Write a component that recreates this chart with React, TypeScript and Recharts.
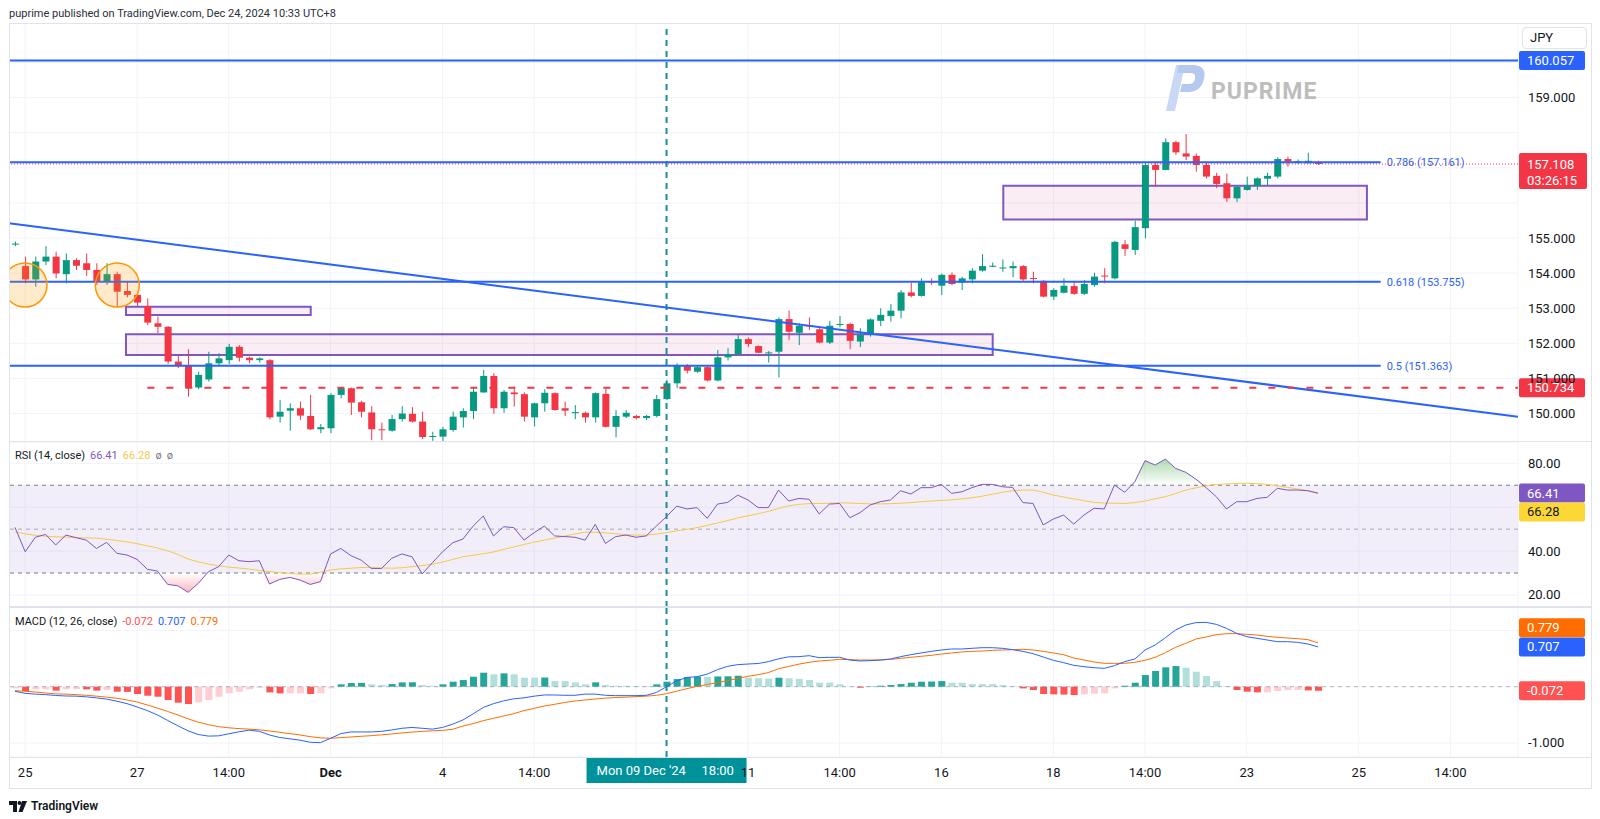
import React from "react";
import {
  ComposedChart,
  Bar,
  Line,
  Area,
  XAxis,
  YAxis,
  CartesianGrid,
  ReferenceLine,
  ReferenceArea,
  ReferenceDot,
  Cell,
} from "recharts";

const FONT = "Roboto, 'Noto Sans', sans-serif";
const UP = "#089981";
const DOWN = "#f23645";
const BLUE = "#2962ff";
const GRID = "#f0f3fa";
const TEXT = "#131722";
const CROSS = "#1a8e99";

// 4H candles, Mon 25 Nov (index 1) .. Tue 24 Dec 10:00 (index 128)
const opens = [
  154.82, 154.2, 153.82, 154.33, 154.47, 153.97, 154.37, 154.28, 154.09, 153.76,
  153.97, 153.49, 153.38, 153.06, 152.57, 152.47, 151.48, 151.35, 150.74, 150.97,
  151.43, 151.52, 151.9, 151.59, 151.52, 151.52, 149.91, 150.08, 150.15, 149.93,
  149.55, 149.58, 150.53, 150.72, 150.32, 150.03, 149.55, 149.51, 149.84, 149.99,
  149.77, 149.33, 149.34, 149.53, 149.89, 150.07, 150.6, 151.07, 150.15, 150.6,
  150.55, 149.89, 150.29, 150.58, 150.15, 150.01, 150.02, 149.89, 150.56, 149.62,
  149.91, 149.93, 149.87, 149.93, 150.41, 150.86, 151.35, 151.19, 151.32, 150.94,
  151.6, 151.69, 152.12, 151.92, 151.72, 151.76, 152.69, 152.3, 152.51, 152.4,
  152.02, 152.53, 152.55, 152.05, 152.24, 152.64, 152.78, 152.93, 153.45, 153.35,
  153.76, 153.64, 153.95, 153.73, 153.82, 154.07, 154.18, 154.14, 154.14, 154.2,
  153.86, 153.78, 153.33, 153.44, 153.63, 153.41, 153.66, 153.93, 153.85, 154.82,
  154.66, 155.28, 157.08, 156.94, 157.73, 157.41, 157.34, 157.08, 156.77, 156.56,
  156.13, 156.37, 156.48, 156.69, 156.75, 157.25, 157.17, 157.13, 157.16,
];
const highs = [
  154.9, 154.47, 154.47, 154.77, 154.61, 154.56, 154.42, 154.56, 154.28, 154.28,
  154.04, 153.77, 153.4, 153.28, 152.76, 152.49, 151.64, 151.83, 151.19, 151.76,
  151.72, 151.98, 151.95, 151.62, 151.6, 151.55, 150.38, 150.29, 150.34, 150.53,
  149.7, 150.58, 150.75, 150.74, 150.36, 150.21, 149.74, 149.96, 150.21, 150.18,
  150.05, 149.48, 149.62, 150.05, 150.15, 150.76, 151.24, 151.15, 150.67, 150.76,
  150.6, 150.31, 150.69, 150.6, 150.34, 150.24, 150.05, 150.6, 150.7, 150.1,
  150.1, 149.96, 149.96, 150.53, 150.96, 151.43, 151.41, 151.35, 151.35, 151.81,
  151.86, 152.24, 152.17, 151.94, 151.78, 152.74, 152.93, 152.57, 152.74, 152.43,
  152.64, 152.78, 152.59, 152.43, 152.71, 153.0, 153.12, 153.52, 153.73, 153.85,
  153.85, 153.99, 154.02, 153.9, 154.14, 154.54, 154.3, 154.39, 154.33, 154.23,
  154.04, 153.8, 153.57, 153.85, 153.78, 153.8, 154.01, 154.14, 154.92, 154.94,
  155.49, 157.15, 157.13, 157.84, 157.77, 157.96, 157.41, 157.17, 156.86, 156.84,
  156.48, 156.75, 156.73, 156.86, 157.3, 157.32, 157.24, 157.43, 157.2,
];
const lows = [
  154.77, 153.71, 153.61, 154.23, 153.85, 153.71, 154.09, 153.92, 153.66, 153.66,
  153.03, 153.31, 153.06, 152.52, 152.29, 151.41, 151.29, 150.48, 150.69, 150.91,
  151.35, 151.41, 151.48, 151.43, 151.45, 149.84, 149.74, 149.51, 149.82, 149.53,
  149.44, 149.44, 150.43, 149.96, 149.89, 149.24, 149.24, 149.48, 149.77, 149.74,
  149.27, 149.22, 149.2, 149.48, 149.6, 149.84, 150.59, 149.99, 150.02, 150.2,
  149.77, 149.63, 150.05, 150.08, 149.93, 149.84, 149.74, 149.74, 149.6, 149.32,
  149.87, 149.83, 149.81, 149.89, 150.38, 150.72, 151.14, 151.16, 150.91, 150.91,
  151.51, 151.67, 151.89, 151.72, 151.45, 151.03, 152.09, 151.95, 152.38, 152.0,
  151.98, 152.46, 151.83, 151.89, 152.19, 152.49, 152.62, 152.71, 153.31, 153.33,
  153.66, 153.38, 153.66, 153.52, 153.71, 154.04, 154.17, 154.04, 153.88, 153.78,
  153.71, 153.31, 153.23, 153.42, 153.38, 153.38, 153.61, 153.71, 153.82, 154.49,
  154.52, 154.99, 156.46, 156.93, 157.37, 157.22, 156.89, 156.7, 156.42, 156.03,
  156.03, 156.35, 156.37, 156.51, 156.7, 157.03, 157.11, 157.13, 157.08,
];
const closes = [
  154.84, 153.82, 154.33, 154.47, 153.99, 154.37, 154.21, 154.09, 153.76, 153.97,
  153.47, 153.38, 153.16, 152.59, 152.47, 151.48, 151.35, 150.74, 151.1, 151.43,
  151.57, 151.9, 151.59, 151.52, 151.57, 149.89, 150.05, 150.15, 149.94, 149.55,
  149.61, 150.53, 150.72, 150.31, 150.05, 149.55, 149.53, 149.84, 150.0, 149.77,
  149.33, 149.36, 149.55, 149.91, 150.07, 150.62, 151.07, 150.15, 150.62, 150.55,
  149.91, 150.29, 150.59, 150.1, 150.08, 150.04, 149.89, 150.58, 149.62, 149.93,
  150.02, 149.87, 149.93, 150.41, 150.86, 151.35, 151.22, 151.32, 150.94, 151.6,
  151.69, 152.12, 151.98, 151.73, 151.74, 152.69, 152.33, 152.5, 152.48, 152.02,
  152.5, 152.55, 152.07, 152.24, 152.68, 152.81, 152.93, 153.45, 153.35, 153.74,
  153.74, 153.95, 153.69, 153.85, 154.07, 154.2, 154.21, 154.16, 154.2, 153.82,
  153.84, 153.33, 153.52, 153.64, 153.41, 153.69, 153.9, 153.91, 154.89, 154.69,
  155.31, 157.08, 156.94, 157.73, 157.44, 157.32, 157.08, 156.75, 156.54, 156.13,
  156.46, 156.49, 156.7, 156.77, 157.25, 157.18, 157.19, 157.2, 157.108,
];

const rsi = [
  50.8, 39.7, 46.3, 47.6, 42.8, 47.3, 46.1, 45.0, 41.2, 44.0, 39.0, 38.2, 36.2,
  31.7, 30.9, 24.8, 24.2, 21.2, 25.3, 30.6, 32.9, 38.2, 35.6, 35.2, 35.6, 25.0,
  27.1, 28.0, 26.8, 24.8, 26.1, 38.7, 41.2, 37.9, 35.9, 32.1, 32.1, 36.7, 38.7,
  37.4, 29.6, 34.7, 39.7, 43.8, 45.5, 51.4, 56.0, 46.9, 51.1, 50.7, 45.0, 48.4,
  51.4, 46.9, 46.6, 46.3, 45.0, 52.2, 43.5, 46.6, 47.3, 46.3, 46.9, 51.4, 55.7,
  60.5, 59.2, 59.8, 54.9, 61.4, 62.2, 65.5, 63.3, 59.8, 59.8, 67.8, 62.8, 64.0,
  63.6, 56.9, 61.4, 61.7, 55.2, 57.5, 61.0, 62.5, 63.3, 67.5, 66.0, 68.9, 68.9,
  70.4, 66.3, 67.0, 68.9, 70.4, 70.4, 69.3, 69.0, 62.1, 61.7, 51.9, 54.6, 56.4,
  52.3, 56.4, 59.5, 59.2, 70.1, 66.8, 71.6, 81.2, 79.2, 81.9, 77.7, 75.9, 72.8,
  68.9, 64.8, 59.2, 62.5, 62.5, 64.0, 64.5, 68.6, 67.8, 67.8, 67.5, 66.41,
];
const rsiMa = [
  48.8, 47.8, 47.2, 46.8, 46.5, 46.4, 46.2, 46.0, 45.9, 45.4, 44.8, 44.2, 43.4,
  42.4, 41.4, 40.1, 38.5, 36.4, 35.1, 34.1, 33.3, 32.7, 32.3, 31.8, 31.2, 30.7,
  30.2, 29.8, 29.5, 29.5, 30.4, 31.4, 31.9, 32.2, 32.5, 32.5, 32.3, 32.2, 32.4,
  32.9, 33.4, 34.1, 35.0, 36.2, 37.4, 38.1, 38.8, 39.6, 40.8, 41.9, 43.0, 44.1,
  45.0, 45.9, 46.9, 47.8, 48.6, 48.6, 48.3, 47.9, 47.5, 47.3, 47.3, 47.7, 48.4,
  49.2, 49.9, 50.7, 51.7, 52.8, 53.9, 55.1, 56.1, 57.0, 58.1, 59.4, 60.6, 61.3,
  61.6, 61.7, 61.8, 62.0, 61.9, 61.7, 61.5, 61.5, 61.6, 61.8, 62.1, 62.5, 62.8,
  63.1, 63.3, 63.8, 64.3, 65.0, 65.9, 66.8, 67.5, 67.8, 67.8, 66.8, 65.5, 64.7,
  63.8, 63.0, 62.2, 61.9, 61.8, 61.7, 62.1, 62.8, 63.8, 64.8, 66.2, 67.8, 68.8,
  69.8, 70.3, 70.6, 70.8, 70.9, 70.7, 70.4, 69.7, 69.0, 68.3, 67.5, 66.28,
];

const macd = [
  -0.082, -0.118, -0.132, -0.141, -0.156, -0.165, -0.168, -0.18, -0.198, -0.221,
  -0.257, -0.301, -0.36, -0.425, -0.502, -0.6, -0.695, -0.784, -0.849, -0.878,
  -0.873, -0.837, -0.801, -0.772, -0.793, -0.858, -0.902, -0.926, -0.95, -0.988,
  -0.994, -0.917, -0.834, -0.804, -0.804, -0.804, -0.793, -0.769, -0.739, -0.724,
  -0.739, -0.754, -0.724, -0.665, -0.591, -0.482, -0.369, -0.301, -0.251, -0.215,
  -0.198, -0.168, -0.147, -0.147, -0.153, -0.153, -0.132, -0.132, -0.153, -0.159,
  -0.159, -0.159, -0.153, -0.103, 0.0, 0.104, 0.164, 0.178, 0.223, 0.303, 0.362,
  0.392, 0.403, 0.412, 0.445, 0.495, 0.531, 0.534, 0.551, 0.516, 0.522, 0.522,
  0.474, 0.457, 0.463, 0.474, 0.492, 0.534, 0.569, 0.599, 0.628, 0.652, 0.67,
  0.67, 0.682, 0.693, 0.693, 0.682, 0.658, 0.628, 0.587, 0.528, 0.469, 0.427,
  0.38, 0.356, 0.338, 0.326, 0.374, 0.445, 0.492, 0.652, 0.741, 0.871, 1.007,
  1.096, 1.138, 1.143, 1.108, 1.037, 0.948, 0.889, 0.859, 0.83, 0.8, 0.8, 0.788,
  0.759, 0.707,
];
const signal = [
  -0.07, -0.082, -0.094, -0.112, -0.127, -0.132, -0.141, -0.153, -0.168, -0.186,
  -0.206, -0.236, -0.272, -0.325, -0.381, -0.44, -0.502, -0.571, -0.63, -0.674,
  -0.71, -0.73, -0.745, -0.754, -0.766, -0.787, -0.81, -0.834, -0.858, -0.887,
  -0.908, -0.917, -0.905, -0.893, -0.881, -0.87, -0.855, -0.84, -0.822, -0.807,
  -0.793, -0.784, -0.775, -0.757, -0.698, -0.656, -0.603, -0.562, -0.52, -0.479,
  -0.425, -0.384, -0.343, -0.313, -0.28, -0.254, -0.236, -0.218, -0.203, -0.192,
  -0.186, -0.177, -0.168, -0.153, -0.124, -0.079, -0.035, 0.006, 0.039, 0.075,
  0.107, 0.149, 0.184, 0.214, 0.25, 0.32, 0.36, 0.4, 0.433, 0.457, 0.469, 0.486,
  0.48, 0.474, 0.474, 0.474, 0.486, 0.504, 0.522, 0.54, 0.557, 0.581, 0.599,
  0.617, 0.628, 0.634, 0.646, 0.652, 0.658, 0.664, 0.652, 0.628, 0.599, 0.569,
  0.51, 0.474, 0.439, 0.415, 0.415, 0.415, 0.433, 0.469, 0.522, 0.605, 0.7, 0.77,
  0.847, 0.883, 0.924, 0.942, 0.942, 0.93, 0.918, 0.895, 0.877, 0.865, 0.853,
  0.836, 0.779,
];
const hist = [
  -0.03, -0.077, -0.047, -0.047, -0.07, -0.047, -0.041, -0.047, -0.07, -0.059,
  -0.089, -0.092, -0.13, -0.16, -0.178, -0.237, -0.284, -0.307, -0.278, -0.237,
  -0.178, -0.118, -0.089, -0.047, -0.018, -0.101, -0.118, -0.118, -0.118, -0.13,
  -0.118, -0.03, 0.042, 0.065, 0.068, 0.042, 0.03, 0.047, 0.077, 0.079, 0.03,
  0.018, 0.042, 0.089, 0.118, 0.178, 0.249, 0.22, 0.237, 0.22, 0.16, 0.16, 0.163,
  0.101, 0.101, 0.077, 0.042, 0.077, 0.03, 0.018, 0.018, 0.012, 0.012, 0.042,
  0.089, 0.136, 0.17, 0.18, 0.175, 0.182, 0.185, 0.195, 0.16, 0.15, 0.145, 0.16,
  0.15, 0.14, 0.119, 0.072, 0.072, 0.042, 0.005, -0.018, 0.006, 0.018, 0.03,
  0.047, 0.071, 0.089, 0.092, 0.1, 0.071, 0.071, 0.047, 0.047, 0.047, 0.03, 0.012,
  -0.03, -0.059, -0.13, -0.136, -0.14, -0.148, -0.136, -0.124, -0.118, -0.03,
  0.018, 0.071, 0.207, 0.279, 0.344, 0.367, 0.337, 0.266, 0.19, 0.1, 0.012,
  -0.059, -0.089, -0.101, -0.101, -0.077, -0.06, -0.058, -0.066, -0.072,
];

const timeTicks = [1, 12, 21, 31, 42, 51, 61, 72, 81, 91, 102, 111, 121, 132, 141];
const timeLabels = ["25", "27", "14:00", "Dec", "4", "14:00", "", "11", "14:00", "16", "18", "14:00", "23", "25", "14:00"];
const priceTicks = [150, 151, 152, 153, 154, 155, 156, 157, 158, 159, 160];
const priceLabels = [150, 151, 152, 153, 154, 155, 159];
const rsiTicks = [20, 40, 60, 80];
const rsiLabels = [20, 40, 80];
const macdTicks = [-1, 0, 1];
const macdLabels = [-1];

const X_DOMAIN: [number, number] = [-0.59, 147.64];
const PRICE_DOMAIN: [number, number] = [149.188, 161.126];
const RSI_DOMAIN: [number, number] = [14.53, 89.7];
const MACD_DOMAIN: [number, number] = [-1.249, 1.416];

const crossIndex = 64;
const crossLabel = "Mon 09 Dec '24";
const crossTime = "18:00";

const highLevel = 160.057;
const lastPrice = 157.108;
const countdown = "03:26:15";
const stopLevel = 150.734;
const stopStart = 13;
const fibEnd = 134.15;
const fibLevels = [157.161, 153.755, 151.363];
const fibNames = ["0.786 (157.161)", "0.618 (153.755)", "0.5 (151.363)"];
const trendFrom = { x: -0.59, y: 155.42 };
const trendTo = { x: 147.64, y: 149.91 };
const zones = [
  { x1: 10.9, x2: 29.05, y1: 152.81, y2: 153.04 },
  { x1: 10.9, x2: 96.04, y1: 151.667, y2: 152.257 },
  { x1: 97.08, x2: 132.8, y1: 155.53, y2: 156.49 },
];
const circles = [
  { x: 0.98, y: 153.66 },
  { x: 10.05, y: 153.66 },
];

const candleRows = opens.map((o, i) => ({
  i,
  o,
  h: highs[i],
  l: lows[i],
  c: closes[i],
  range: [lows[i], highs[i]],
}));
const rsiRows = rsi.map((v, i) => ({
  i,
  rsi: v,
  ma: rsiMa[i],
  ob: [70, Math.max(70, v)],
  os: [Math.min(30, v), 30],
}));
const macdRows = macd.map((v, i) => ({ i, macd: v, signal: signal[i], hist: hist[i] }));

function histColor(i: number) {
  const v = hist[i];
  const prev = i > 0 ? hist[i - 1] : v;
  if (v >= 0) return v > prev ? "#26a69a" : "#b2dfdb";
  return v < prev ? "#ff5252" : "#ffcdd2";
}

function Candle(props: any) {
  const { x, y, width, height, payload } = props;
  if (!payload || x == null || y == null) return <g />;
  const { o, h, l, c } = payload;
  const top = Math.min(y, y + height);
  const full = Math.abs(height);
  const span = h - l;
  const toY = (v: number) => (span > 0 ? top + ((h - v) / span) * full : top);
  const color = c >= o ? UP : DOWN;
  const cx = x + width / 2;
  const bTop = toY(Math.max(o, c));
  const bBot = toY(Math.min(o, c));
  return (
    <g>
      <line x1={cx} x2={cx} y1={top} y2={top + full} stroke={color} strokeWidth={1} />
      <rect x={x} y={bTop} width={width} height={Math.max(1, bBot - bTop)} fill={color} />
    </g>
  );
}

const axisTick = (shown: number[], digits: number) =>
  function AxisTick(props: any) {
    const { x, y, payload } = props;
    if (!shown.includes(payload.value)) return <g />;
    return (
      <text x={x} y={y + 4.5} fill={TEXT} fontSize={13} fontFamily={FONT} textAnchor="start">
        {payload.value.toFixed(digits)}
      </text>
    );
  };

function TimeTick(props: any) {
  const { x, y, payload } = props;
  const k = timeTicks.indexOf(payload.value);
  const label = k >= 0 ? timeLabels[k] : "";
  return (
    <text
      x={x}
      y={y + 19.5}
      fill={TEXT}
      fontSize={13}
      fontFamily={FONT}
      fontWeight={label === "Dec" ? 700 : 400}
      textAnchor="middle"
    >
      {label}
    </text>
  );
}

const tag = (text: string, bg: string, fg = "#ffffff", dy = 0, sub?: string) =>
  function TagLabel(props: any) {
    const vb = props.viewBox || {};
    const x = (vb.x || 0) + (vb.width || 0) + 1;
    const cy = (vb.y || 0) + dy;
    const h = sub ? 36 : 19;
    const top = sub ? cy - 11 : cy - h / 2;
    return (
      <g>
        <rect x={x} y={top} width={sub ? 68 : 66} height={h} rx={2} fill={bg} />
        <text x={x + 8} y={cy + 4.5} fill={fg} fontSize={13} fontFamily={FONT}>
          {text}
        </text>
        {sub ? (
          <text x={x + 8} y={cy + 20.5} fill={fg} fontSize={13} fontFamily={FONT}>
            {sub}
          </text>
        ) : null}
      </g>
    );
  };

const fibLabel = (text: string) =>
  function FibLabel(props: any) {
    const vb = props.viewBox || {};
    return (
      <text x={(vb.x || 0) + (vb.width || 0) + 6} y={(vb.y || 0) + 4} fill={BLUE} fontSize={11} fontFamily={FONT}>
        {text}
      </text>
    );
  };

function CrossTag(props: any) {
  const vb = props.viewBox || {};
  const cx = vb.x || 0;
  const top = (vb.y || 0) + (vb.height || 0);
  return (
    <g>
      <rect x={cx - 80} y={top} width={160} height={26} fill="#00929b" />
      <text x={cx - 70} y={top + 17.5} fill="#fff" fontSize={13} fontFamily={FONT}>
        {crossLabel}
      </text>
      <text x={cx + 35} y={top + 17.5} fill="#fff" fontSize={13} fontFamily={FONT}>
        {crossTime}
      </text>
    </g>
  );
}

const W = 1583;
const AXIS_W = 74;

function PriceChart() {
  return (
    <ComposedChart width={W} height={419} data={candleRows} margin={{ top: 0, right: 0, bottom: 0, left: 0 }}>
      <CartesianGrid stroke={GRID} />
      <XAxis type="number" dataKey="i" domain={X_DOMAIN} allowDataOverflow ticks={timeTicks} hide />
      <YAxis
        orientation="right"
        width={AXIS_W}
        domain={PRICE_DOMAIN}
        allowDataOverflow
        ticks={priceTicks}
        interval={0}
        tick={axisTick(priceLabels, 3)}
        axisLine={false}
        tickLine={false}
        tickSize={0}
        tickMargin={10}
      />
      {zones.map((z, k) => (
        <ReferenceArea
          key={"z" + k}
          x1={z.x1}
          x2={z.x2}
          y1={z.y1}
          y2={z.y2}
          fill="rgb(200,60,120)"
          fillOpacity={0.09}
          stroke="#7e57c2"
          strokeWidth={2}
          ifOverflow="hidden"
        />
      ))}
      {circles.map((c, k) => (
        <ReferenceDot
          key={"c" + k}
          x={c.x}
          y={c.y}
          r={22}
          fill="#ff9800"
          fillOpacity={0.2}
          stroke="#ff9800"
          strokeWidth={1.5}
          ifOverflow="hidden"
        />
      ))}
      <ReferenceLine x={crossIndex} stroke={CROSS} strokeWidth={2} strokeDasharray="6 5" />
      <ReferenceLine y={highLevel} stroke={BLUE} strokeWidth={2} label={tag(highLevel.toFixed(3), BLUE)} />
      {fibLevels.map((v, k) => (
        <ReferenceLine
          key={"f" + k}
          segment={[
            { x: X_DOMAIN[0], y: v },
            { x: fibEnd, y: v },
          ]}
          stroke={BLUE}
          strokeWidth={2}
          label={fibLabel(fibNames[k])}
        />
      ))}
      <ReferenceLine segment={[trendFrom, trendTo]} stroke={BLUE} strokeWidth={2} ifOverflow="hidden" />
      <ReferenceLine
        segment={[
          { x: stopStart, y: stopLevel },
          { x: X_DOMAIN[1], y: stopLevel },
        ]}
        stroke={DOWN}
        strokeWidth={2}
        strokeDasharray="7 12"
      />
      <Bar dataKey="range" barSize={7} shape={(p: any) => <Candle {...p} />} isAnimationActive={false} />
      <ReferenceLine
        y={lastPrice}
        stroke={DOWN}
        strokeWidth={1}
        strokeDasharray="1 2"
        label={tag(lastPrice.toFixed(3), DOWN, "#fff", 0, countdown)}
      />
      <ReferenceLine y={stopLevel} stroke="none" label={tag(stopLevel.toFixed(3), DOWN)} />
    </ComposedChart>
  );
}

function RsiChart() {
  return (
    <ComposedChart width={W} height={165} data={rsiRows} margin={{ top: 0, right: 0, bottom: 0, left: 0 }}>
      <defs>
        <linearGradient id="obFill" x1="0" y1="0" x2="0" y2="1">
          <stop offset="0%" stopColor="#4caf50" stopOpacity={0.45} />
          <stop offset="100%" stopColor="#4caf50" stopOpacity={0} />
        </linearGradient>
        <linearGradient id="osFill" x1="0" y1="0" x2="0" y2="1">
          <stop offset="0%" stopColor="#f23645" stopOpacity={0} />
          <stop offset="100%" stopColor="#f23645" stopOpacity={0.35} />
        </linearGradient>
      </defs>
      <CartesianGrid stroke={GRID} />
      <XAxis type="number" dataKey="i" domain={X_DOMAIN} allowDataOverflow ticks={timeTicks} hide />
      <YAxis
        orientation="right"
        width={AXIS_W}
        domain={RSI_DOMAIN}
        allowDataOverflow
        ticks={rsiTicks}
        interval={0}
        tick={axisTick(rsiLabels, 2)}
        axisLine={false}
        tickLine={false}
        tickSize={0}
        tickMargin={10}
      />
      <ReferenceArea y1={30} y2={70} fill="#7e57c2" fillOpacity={0.1} stroke="none" />
      <ReferenceLine y={70} stroke="#787b86" strokeDasharray="4 4" />
      <ReferenceLine y={50} stroke="#787b86" strokeOpacity={0.6} strokeDasharray="4 4" />
      <ReferenceLine y={30} stroke="#787b86" strokeDasharray="4 4" />
      <ReferenceLine x={crossIndex} stroke={CROSS} strokeWidth={2} strokeDasharray="6 5" />
      <Area dataKey="ob" stroke="none" fill="url(#obFill)" fillOpacity={1} isAnimationActive={false} />
      <Area dataKey="os" stroke="none" fill="url(#osFill)" fillOpacity={1} isAnimationActive={false} />
      <Line dataKey="ma" stroke="#f7c948" strokeWidth={1} dot={false} isAnimationActive={false} />
      <Line dataKey="rsi" stroke="#7e57c2" strokeWidth={1} dot={false} isAnimationActive={false} />
      <ReferenceLine y={rsi[rsi.length - 1]} stroke="none" label={tag(rsi[rsi.length - 1].toFixed(2), "#7e57c2")} />
      <ReferenceLine
        y={rsiMa[rsiMa.length - 1]}
        stroke="none"
        label={tag(rsiMa[rsiMa.length - 1].toFixed(2), "#fdd835", TEXT, 18.5)}
      />
    </ComposedChart>
  );
}

function MacdChart() {
  const last = macd.length - 1;
  return (
    <ComposedChart width={W} height={181} data={macdRows} margin={{ top: 0, right: 0, bottom: 0, left: 0 }}>
      <CartesianGrid stroke={GRID} />
      <XAxis
        type="number"
        dataKey="i"
        domain={X_DOMAIN}
        allowDataOverflow
        ticks={timeTicks}
        interval={0}
        height={31}
        tick={<TimeTick />}
        axisLine={false}
        tickLine={false}
        tickSize={0}
        tickMargin={0}
      />
      <YAxis
        orientation="right"
        width={AXIS_W}
        domain={MACD_DOMAIN}
        allowDataOverflow
        ticks={macdTicks}
        interval={0}
        tick={axisTick(macdLabels, 3)}
        axisLine={false}
        tickLine={false}
        tickSize={0}
        tickMargin={10}
      />
      <ReferenceLine y={0} stroke="#787b86" strokeOpacity={0.5} strokeDasharray="4 4" />
      <Bar dataKey="hist" barSize={7} isAnimationActive={false}>
        {macdRows.map((r) => (
          <Cell key={r.i} fill={histColor(r.i)} />
        ))}
      </Bar>
      <Line dataKey="signal" stroke="#ff6d00" strokeWidth={1} dot={false} isAnimationActive={false} />
      <Line dataKey="macd" stroke={BLUE} strokeWidth={1} dot={false} isAnimationActive={false} />
      <ReferenceLine x={crossIndex} stroke={CROSS} strokeWidth={2} strokeDasharray="6 5" label={<CrossTag />} />
      <ReferenceLine y={macd[last]} stroke="none" label={tag(macd[last].toFixed(3), BLUE)} />
      <ReferenceLine y={signal[last]} stroke="none" label={tag(signal[last].toFixed(3), "#ff6d00", "#fff", -15)} />
      <ReferenceLine y={hist[last]} stroke="none" label={tag(hist[last].toFixed(3), "#ff5252")} />
    </ComposedChart>
  );
}

function Legend({ top, parts }: { top: number; parts: [string, string][] }) {
  return (
    <div style={{ position: "absolute", left: 15, top, fontSize: 11, fontFamily: FONT, whiteSpace: "nowrap" }}>
      {parts.map(([t, c], k) => (
        <span key={k} style={{ color: c, marginRight: 5 }}>
          {t}
        </span>
      ))}
    </div>
  );
}

function Watermark() {
  return (
    <svg style={{ position: "absolute", left: 1160, top: 60 }} width={175} height={56}>
      <path d="M6 51 L16 5 L25 5 L15 51 Z" fill="#c9d8f4" />
      <path d="M19 5 L34 5 Q47 6 44 19 Q41 32 28 32 L20 32 L22 24 L29 24 Q34 24 35 19 Q36 13 31 13 L17 13 Z" fill="#b5c9ee" />
      <text x={51} y={39} fontSize={23} fontWeight={700} fill="#bdbdbd" letterSpacing={1} fontFamily={FONT}>
        PUPRIME
      </text>
    </svg>
  );
}

export default function App() {
  return (
    <div
      style={{
        position: "absolute",
        left: 0,
        top: 0,
        width: 1600,
        height: 819,
        background: "#fff",
        overflow: "hidden",
        fontFamily: FONT,
      }}
    >
      <div style={{ position: "absolute", left: 9, top: 7, fontSize: 11, color: "#2a2e39" }}>
        puprime published on TradingView.com, Dec 24, 2024 10:33 UTC+8
      </div>
      <div style={{ position: "absolute", left: 9, top: 23 }}>
        <PriceChart />
      </div>
      <div style={{ position: "absolute", left: 9, top: 442 }}>
        <RsiChart />
      </div>
      <div style={{ position: "absolute", left: 9, top: 607 }}>
        <MacdChart />
      </div>
      <Watermark />
      <div
        style={{
          position: "absolute",
          left: 1522,
          top: 27,
          width: 65,
          height: 22,
          border: "1px solid #e0e3eb",
          borderRadius: 4,
          boxSizing: "border-box",
          fontSize: 13,
          color: TEXT,
          lineHeight: "20px",
          paddingLeft: 7,
          background: "#fff",
        }}
      >
        JPY
      </div>
      <Legend top={449} parts={[["RSI (14, close)", TEXT], ["66.41", "#7e57c2"], ["66.28", "#f7c948"], ["ø", "#787b86"], ["ø", "#787b86"]]} />
      <Legend top={615} parts={[["MACD (12, 26, close)", TEXT], ["-0.072", "#ff5252"], ["0.707", BLUE], ["0.779", "#ff6d00"]]} />
      <div style={{ position: "absolute", left: 9, top: 441, width: 1583, height: 1, background: "#e0e3eb" }} />
      <div style={{ position: "absolute", left: 9, top: 606, width: 1583, height: 2, background: "#e0e3eb" }} />
      <div style={{ position: "absolute", left: 9, top: 757, width: 1583, height: 1, background: "#e0e3eb" }} />
      <div
        style={{
          position: "absolute",
          left: 9,
          top: 23,
          width: 1583,
          height: 766,
          border: "1px solid #e0e3eb",
          boxSizing: "border-box",
          pointerEvents: "none",
        }}
      />
      <div style={{ position: "absolute", left: 9, top: 799, display: "flex", alignItems: "center", gap: 4 }}>
        <svg width={18} height={11}>
          <path d="M0 0 H8 V11 H4 V4 H0 Z" fill={TEXT} />
          <circle cx={10.5} cy={2} r={2} fill={TEXT} />
          <path d="M13 0 H18 L13.5 11 H9.5 Z" fill={TEXT} />
        </svg>
        <span style={{ fontSize: 12, fontWeight: 600, color: TEXT }}>TradingView</span>
      </div>
    </div>
  );
}
